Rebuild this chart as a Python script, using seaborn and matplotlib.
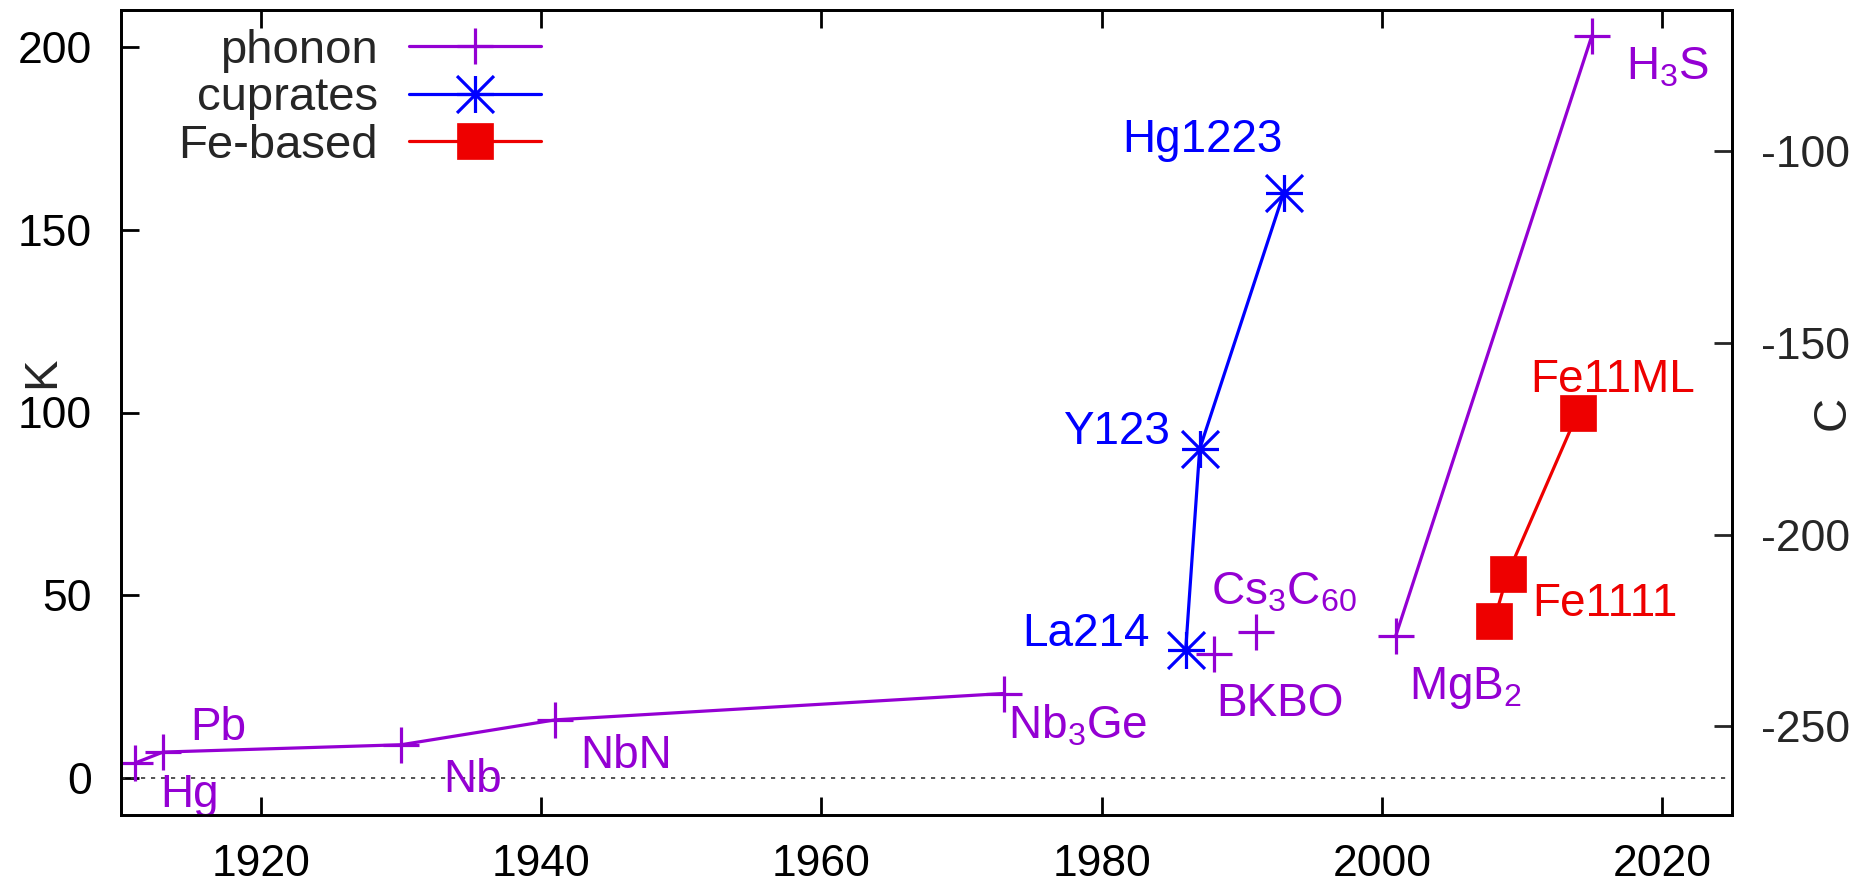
import matplotlib
matplotlib.use("Agg")
import numpy as np
import pandas as pd
import matplotlib.pyplot as plt
from matplotlib.lines import Line2D
from matplotlib.path import Path
import seaborn as sns

# ── data ──────────────────────────────────────────────────────────────────────
phonon_names = ["Hg", "Pb", "Nb", "NbN", "Nb$_3$Ge", "BKBO",
                "Cs$_3$C$_{60}$", "MgB$_2$", "H$_3$S"]
phonon_year  = [1911, 1913, 1930, 1941, 1973, 1988, 1991, 2001, 2015]
phonon_tc    = [4.2, 7.2, 9.2, 16.0, 23.2, 34.0, 40.0, 39.0, 203.0]
phonon_group = [0, 0, 0, 0, 0, 1, 2, 3, 3]

cuprate_names = ["La214", "Y123", "Hg1223"]
cuprate_year  = [1986, 1987, 1993]
cuprate_tc    = [35.0, 90.0, 160.0]

fe_names = ["", "Fe1111", "Fe11ML"]
fe_year  = [2008, 2009, 2014]
fe_tc    = [43.0, 56.0, 100.0]

x_ticks  = [1920, 1940, 1960, 1980, 2000, 2020]
y_ticks  = [0, 50, 100, 150, 200]
y2_ticks = [-250, -200, -150, -100]

series_labels = ["phonon", "cuprates", "Fe-based"]

# label placement: offset in pixels from the point (dx, dy up to baseline), alignment
label_pos = {
    "Hg": (25, -44, "left"), "Pb": (27, 12, "left"), "Nb": (42, -47, "left"),
    "NbN": (25, -48, "left"), "Nb$_3$Ge": (4, -45, "left"),
    "BKBO": (3, -62, "left"), "Cs$_3$C$_{60}$": (-45, 28, "left"),
    "MgB$_2$": (13, -63, "left"), "H$_3$S": (34, -44, "left"),
    "La214": (-36, 4, "right"), "Y123": (-30, 5, "right"),
    "Hg1223": (-1, 41, "right"), "Fe1111": (24, -43, "left"),
    "Fe11ML": (-48, 20, "left"),
}

C_PH = "#9400D3"
C_CU = "#0000FF"
C_FE = "#EE0000"
FS_TICK = 32
FS_TEXT = 33
FS_LEG = 34

sns.set_theme(style="white")
plt.rcParams["font.family"] = ["Liberation Sans", "DejaVu Sans"]
plt.rcParams["mathtext.default"] = "regular"
plt.rcParams["axes.unicode_minus"] = False

# asterisk marker (plus + cross), like gnuplot point type 3
star = Path([(-1, 0), (1, 0), (0, -1), (0, 1), (-1, -1), (1, 1), (-1, 1), (1, -1)],
            [Path.MOVETO, Path.LINETO] * 4)

ph_df = pd.DataFrame({"year": phonon_year, "tc": phonon_tc, "grp": phonon_group})
cu_df = pd.DataFrame({"year": cuprate_year, "tc": cuprate_tc})
fe_df = pd.DataFrame({"year": fe_year, "tc": fe_tc})

fig = plt.figure(figsize=(18.66, 8.84), dpi=100)
ax = fig.add_axes([121 / 1866, 69 / 884, 1611 / 1866, 805 / 884])

ax.axhline(0, color="#333333", lw=1.2, ls=(0, (2.5, 3.5)), zorder=1)

line_kw = dict(lw=2.3, mew=2.3, ms=26.6, estimator=None, sort=False, legend=False, ax=ax)
sns.lineplot(data=ph_df, x="year", y="tc", units="grp", color=C_PH,
             marker="+", mec=C_PH, **line_kw)
sns.lineplot(data=cu_df, x="year", y="tc", color=C_CU,
             marker=star, mec=C_CU, mfc="none", **line_kw)
sns.lineplot(data=fe_df, x="year", y="tc", color=C_FE,
             marker="s", mec=C_FE, mfc=C_FE,
             **{**line_kw, "ms": 26, "mew": 0.5})

for names, years, tcs, col in [(phonon_names, phonon_year, phonon_tc, C_PH),
                               (cuprate_names, cuprate_year, cuprate_tc, C_CU),
                               (fe_names, fe_year, fe_tc, C_FE)]:
    for n, xv, yv in zip(names, years, tcs):
        if not n:
            continue
        dx, dy, ha = label_pos[n]
        ax.annotate(n, (xv, yv), xytext=(dx, dy), textcoords="offset pixels",
                    ha=ha, va="baseline", color=col, fontsize=FS_TEXT)

ax.set_xlim(1910, 2025)
ax.set_ylim(-10, 210)
ax.set_xticks(x_ticks)
ax.set_yticks(y_ticks)
ax.set_xlabel("")
ax.set_ylabel("K", fontsize=FS_LEG, va="center")
ax.yaxis.set_label_coords(-0.049, 0.55)
ax.xaxis.set_ticks_position("both")
ax.yaxis.set_ticks_position("left")
ax.tick_params(axis="both", direction="in", length=13, width=2, labelsize=FS_TICK,
               pad=21, colors="black")
ax.tick_params(axis="x", top=True, labeltop=False)

ax2 = ax.twinx()
ax2.set_ylim(-273.15, -63.15)
ax2.set_yticks(y2_ticks)
ax2.set_ylabel("C", fontsize=FS_LEG, va="center", rotation=90)
ax2.yaxis.set_label_coords(1.0627, 0.5)
ax2.tick_params(axis="y", direction="in", length=13, width=2, labelsize=FS_TICK, pad=21)
ax2.grid(False)
ax.grid(False)

for a in (ax, ax2):
    for s in a.spines.values():
        s.set_linewidth(2)
        s.set_color("black")

handles = [
    Line2D([], [], color=C_PH, lw=2.3, marker="+", ms=26.6, mew=2.3),
    Line2D([], [], color=C_CU, lw=2.3, marker=star, ms=26.6, mew=2.3, mfc="none"),
    Line2D([], [], color=C_FE, lw=2.3, marker="s", ms=26, mew=0.5),
]
ax.legend(handles, series_labels, loc="upper right",
          bbox_to_anchor=(541 / 1866, 1 - 29 / 884), bbox_transform=fig.transFigure,
          markerfirst=False, frameon=False, fontsize=FS_LEG, handlelength=2.8,
          handletextpad=0.65, labelspacing=0.07, borderpad=0, borderaxespad=0)

fig.savefig("out.png", dpi=100)
